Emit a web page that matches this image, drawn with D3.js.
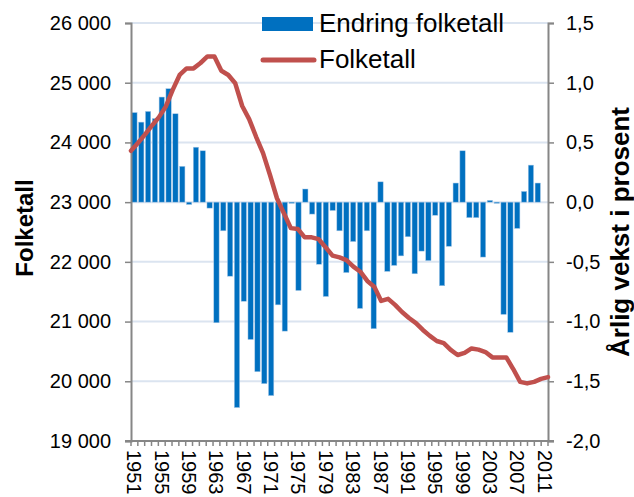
<!DOCTYPE html>
<html>
<head>
<meta charset="utf-8">
<script src="https://cdn.jsdelivr.net/npm/d3@7"></script>
<style>
  body { margin: 0; background: #fff; }
  svg { display: block; font-family: "Liberation Sans", Arial, sans-serif; }
</style>
</head>
<body>
<div id="chart"></div>
<script>
// years on the category axis
var years = d3.range(1951, 2012);

// annual change in percent (bars), 1951-2010
var growth = [0.75, 0.67, 0.76, 0.70, 0.88, 0.95, 0.74, 0.30, -0.02, 0.46,
    0.43, -0.05, -1.01, -0.24, -0.62, -1.72, -0.83, -1.15, -1.42, -1.52,
    -1.62, -0.86, -1.08, -0.01, -0.74, 0.11, -0.10, -0.52, -0.79, -0.07,
    -0.24, -0.59, -0.33, -0.89, -0.24, -1.06, 0.17, -0.58, -0.53, -0.45,
    -0.29, -0.60, -0.41, -0.49, -0.11, -0.70, -0.37, 0.16, 0.43, -0.13,
    -0.13, -0.46, 0.015, -0.01, -0.94, -1.09, -0.22, 0.09, 0.31, 0.16];

// population (line), 1951-2011
var population = [23860, 23990, 24130, 24280, 24420, 24600, 24880, 25130, 25240, 25240,
    25330, 25440, 25440, 25200, 25130, 24990, 24610, 24390, 24095, 23820,
    23455, 23065, 22815, 22565, 22550, 22410, 22410, 22380, 22245, 22105,
    22075, 22030, 21920, 21835, 21680, 21585, 21345, 21380, 21280, 21160,
    21060, 20975, 20860, 20760, 20675, 20640, 20525, 20440, 20475, 20550,
    20530, 20490, 20400, 20400, 20400, 20205, 19990, 19965, 19990, 20040,
    20070];

var leftTicks = [19000, 20000, 21000, 22000, 23000, 24000, 25000, 26000];
var rightTicks = [-2, -1.5, -1, -0.5, 0, 0.5, 1, 1.5];
var yearLabels = d3.range(1951, 2012, 4);

function chart() {
var width = 634, height = 497;
var mLeft = 131, mRight = 548, mTop = 23, mBottom = 441;

var nb = d3.formatLocale({decimal: ",", thousands: "\u00a0", grouping: [3], currency: ["", " kr"], minus: "-"});
var fmtPop = nb.format(",d"), fmtPct = nb.format(".1f");

var svg = d3.select("#chart").append("svg")
    .attr("width", width).attr("height", height);

var x = d3.scaleBand().domain(years).range([mLeft, mRight])
    .paddingInner(0.22).paddingOuter(0.11);
var xl = d3.scalePoint().domain(years).range([mLeft, mRight]);
var y = d3.scaleLinear().domain([19000, 26000]).range([mBottom, mTop]);
var y2 = d3.scaleLinear().domain([-2, 1.5]).range([mBottom, mTop]);

// gridlines
svg.append("g")
    .selectAll("line")
    .data(leftTicks.slice(1))
    .join("line")
    .attr("x1", mLeft).attr("x2", mRight)
    .attr("y1", d => y(d)).attr("y2", d => y(d))
    .attr("stroke", "#dbe4f0")
    .attr("stroke-width", 2);

// bars
svg.append("g")
    .selectAll("rect")
    .data(growth)
    .join("rect")
    .attr("x", (d, i) => x(years[i]))
    .attr("width", x.bandwidth())
    .attr("y", d => y2(Math.max(0, d)))
    .attr("height", d => Math.abs(y2(d) - y2(0)))
    .attr("fill", "#0070c0")
    .attr("stroke", "#a9c9e8")
    .attr("stroke-width", 0.5);

// axes
var axisColor = "#868686";
var gl = svg.append("g")
    .attr("transform", `translate(${mLeft},0)`)
    .call(d3.axisLeft(y).tickValues(leftTicks).tickFormat(fmtPop).tickSize(6).tickPadding(14));
var gr = svg.append("g")
    .attr("transform", `translate(${mRight},0)`)
    .call(d3.axisRight(y2).tickValues(rightTicks).tickFormat(fmtPct).tickSize(6).tickPadding(12));

// bottom axis: ticks on category boundaries
var gb = svg.append("g");
gb.append("line")
    .attr("x1", mLeft - 6).attr("x2", mRight + 6)
    .attr("y1", mBottom).attr("y2", mBottom);
gb.selectAll(".bt")
    .data(d3.range(years.length + 1))
    .join("line")
    .attr("class", "bt")
    .attr("x1", i => mLeft + i * x.step())
    .attr("x2", i => mLeft + i * x.step())
    .attr("y1", mBottom).attr("y2", mBottom + 5);
gb.selectAll("text")
    .data(yearLabels)
    .join("text")
    .attr("transform", d => `translate(${x(d) + x.bandwidth() / 2},${mBottom + 9}) rotate(90)`)
    .attr("dy", "0.35em")
    .text(d => d);

[gl, gr].forEach(g => {
    g.select(".domain").attr("stroke", axisColor).attr("stroke-width", 2);
    g.selectAll(".tick line").attr("stroke", axisColor).attr("stroke-width", 1.5);
    g.selectAll("text").attr("fill", "#000").style("font-size", "20px")
        .style("font-family", "Liberation Sans, Arial, sans-serif");
});
gb.selectAll("line").attr("stroke", axisColor).attr("stroke-width", 1.5);
gb.select("line").attr("stroke-width", 2);
gb.selectAll("text").style("font-size", "20px").attr("fill", "#000");

// population line
svg.append("path")
    .datum(population)
    .attr("fill", "none")
    .attr("stroke", "#c0504d")
    .attr("stroke-width", 4.5)
    .attr("stroke-linejoin", "round")
    .attr("stroke-linecap", "round")
    .attr("d", d3.line().x((d, i) => xl(years[i])).y(d => y(d)));

// axis titles
svg.append("text")
    .attr("transform", "translate(33,228) rotate(-90)")
    .attr("text-anchor", "middle")
    .style("font-size", "24px").style("font-weight", "bold")
    .text("Folketall");
svg.append("text")
    .attr("transform", "translate(629,232) rotate(-90)")
    .attr("text-anchor", "middle")
    .style("font-size", "26px").style("font-weight", "bold")
    .text("Årlig vekst i prosent");

// legend
var lg = svg.append("g");
lg.append("rect").attr("x", 262).attr("y", 17).attr("width", 51).attr("height", 14)
    .attr("fill", "#0070c0");
lg.append("line").attr("x1", 263).attr("x2", 314).attr("y1", 60).attr("y2", 60)
    .attr("stroke", "#c0504d").attr("stroke-width", 5).attr("stroke-linecap", "round");
lg.append("text").attr("x", 319).attr("y", 32).style("font-size", "26px").text("Endring folketall");
lg.append("text").attr("x", 319).attr("y", 68).style("font-size", "26px").text("Folketall");
}

chart();
</script>
</body>
</html>
